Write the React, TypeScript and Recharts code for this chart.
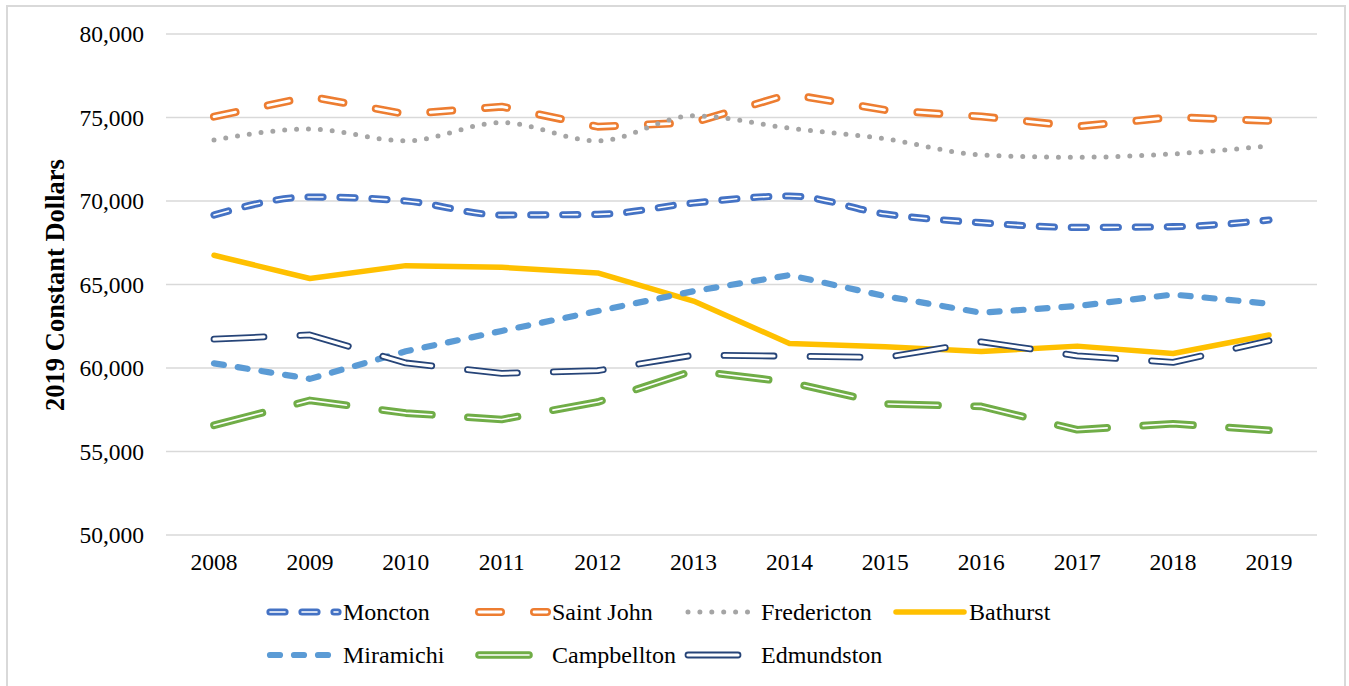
import React from 'react';
import { LineChart, Line, XAxis, YAxis, CartesianGrid, Legend, Label } from 'recharts';

const years = ['2008', '2009', '2010', '2011', '2012', '2013', '2014', '2015', '2016', '2017', '2018', '2019'];
const moncton = [69160, 70240, 70000, 69160, 69200, 69880, 70300, 69220, 68700, 68420, 68460, 68860];
const saintJohn = [75050, 76250, 75200, 75650, 74450, 74700, 76400, 75450, 75060, 74460, 75020, 74800];
const fredericton = [73650, 74310, 73600, 74700, 73600, 75100, 74360, 73720, 72760, 72620, 72820, 73300];
const bathurst = [66750, 65360, 66130, 66030, 65690, 64010, 61470, 61270, 60990, 61310, 60870, 61980];
const miramichi = [60280, 59350, 61000, 62220, 63410, 64600, 65560, 64300, 63310, 63710, 64400, 63850];
const campbellton = [56570, 58060, 57300, 56920, 57960, 59840, 59150, 57850, 57700, 56300, 56660, 56270];
const edmundston = [61730, 61980, 60300, 59680, 59840, 60770, 60710, 60630, 61570, 60730, 60340, 61630];
const yTicks = [50000, 55000, 60000, 65000, 70000, 75000, 80000];

const data = years.map((year, i) => ({
  year,
  Moncton: moncton[i],
  'Saint John': saintJohn[i],
  Fredericton: fredericton[i],
  Bathurst: bathurst[i],
  Miramichi: miramichi[i],
  Campbellton: campbellton[i],
  Edmundston: edmundston[i],
}));

// line looks, roughly the Excel defaults (inner = white stripe of a compound line)
const series = [
  { name: 'Moncton', color: '#4472C4', width: 7.2, inner: 1.6, dash: '15 17', type: 'monotone' },
  { name: 'Saint John', color: '#ED7D31', width: 8, inner: 2.8, dash: '22 33', type: 'linear' },
  { name: 'Fredericton', color: '#A5A5A5', width: 5, inner: 0, dash: '0 11.9', type: 'monotone' },
  { name: 'Bathurst', color: '#FFC000', width: 5.5, inner: 0, dash: undefined, type: 'linear' },
  { name: 'Miramichi', color: '#5B9BD5', width: 6.2, inner: 0, dash: '10 14', type: 'linear' },
  { name: 'Campbellton', color: '#70AD47', width: 7.6, inner: 1.6, dash: '50 36', type: 'linear' },
  { name: 'Edmundston', color: '#264478', width: 6.8, inner: 3.2, dash: '50 36', type: 'linear' },
];

const font = "'Times New Roman', 'Liberation Serif', serif";
const legendCols = [266, 475, 684, 892];
const legendRows = [612, 655];

function renderLegend() {
  return (
    <div style={{ position: 'relative', width: 1349, height: 96 }}>
      {series.map((s, i) => {
        const left = legendCols[i % 4];
        const top = legendRows[Math.floor(i / 4)] - 590 - 15;
        return (
          <div key={s.name} style={{ position: 'absolute', left, top, height: 30, display: 'flex', alignItems: 'center' }}>
            <svg width={77} height={20} style={{ display: 'block' }}>
              <line x1={4} x2={72} y1={10} y2={10} stroke={s.color} strokeWidth={s.width}
                strokeDasharray={s.dash} strokeLinecap="round" />
              {s.inner > 0 && (
                <line x1={4} x2={72} y1={10} y2={10} stroke="#fff" strokeWidth={s.inner}
                  strokeDasharray={s.dash} strokeLinecap="round" />
              )}
            </svg>
            <span style={{ fontFamily: font, fontSize: 24, color: '#000', whiteSpace: 'nowrap' }}>{s.name}</span>
          </div>
        );
      })}
    </div>
  );
}

export default function App() {
  const lines: React.ReactNode[] = [];
  series.forEach((s) => {
    lines.push(
      <Line key={s.name} type={s.type as any} dataKey={s.name} stroke={s.color} strokeWidth={s.width}
        strokeDasharray={s.dash} strokeLinecap="round" strokeLinejoin="round"
        dot={false} activeDot={false} legendType="none" isAnimationActive={false} />
    );
    if (s.inner > 0) {
      lines.push(
        <Line key={s.name + '-in'} type={s.type as any} dataKey={s.name} stroke="#fff" strokeWidth={s.inner}
          strokeDasharray={s.dash} strokeLinecap="round" strokeLinejoin="round"
          dot={false} activeDot={false} legendType="none" isAnimationActive={false} />
      );
    }
  });

  return (
    <div style={{ position: 'fixed', left: 0, top: 0, width: 1349, height: 686, background: '#fff', overflow: 'hidden' }}>
      <div style={{ position: 'absolute', left: 6, top: 5, width: 1336, height: 700, border: '2px solid #D9D9D9' }} />
      <div style={{ position: 'absolute', left: 0, top: 0 }}>
        <LineChart width={1349} height={686} data={data} margin={{ top: 34, right: 32, bottom: 121, left: 0 }}>
          <CartesianGrid vertical={false} stroke="#D9D9D9" strokeWidth={1.5} />
          <XAxis dataKey="year" height={30} padding={{ left: 48, right: 48 }} axisLine={false} tickLine={false}
            tickMargin={12} tick={{ fontFamily: font, fontSize: 23.5, fill: '#000' }} interval={0} />
          <YAxis width={166} domain={[50000, 80000]} ticks={yTicks} axisLine={false} tickLine={false}
            tickMargin={16} tickFormatter={(v: number) => v.toLocaleString('en-US')}
            tick={{ fontFamily: font, fontSize: 23.5, fill: '#000' }}>
            <Label content={() => (
              <text x={64} y={285} transform="rotate(-90 64 285)" textAnchor="middle"
                fontFamily={font} fontSize={26.5} fontWeight="bold" fill="#000">
                2019 Constant Dollars
              </text>
            )} />
          </YAxis>
          <Legend layout="horizontal" verticalAlign="middle" align="center" content={renderLegend}
            wrapperStyle={{ left: 0, top: 590, width: 1349, height: 96 }} />
          {lines}
        </LineChart>
      </div>
    </div>
  );
}
